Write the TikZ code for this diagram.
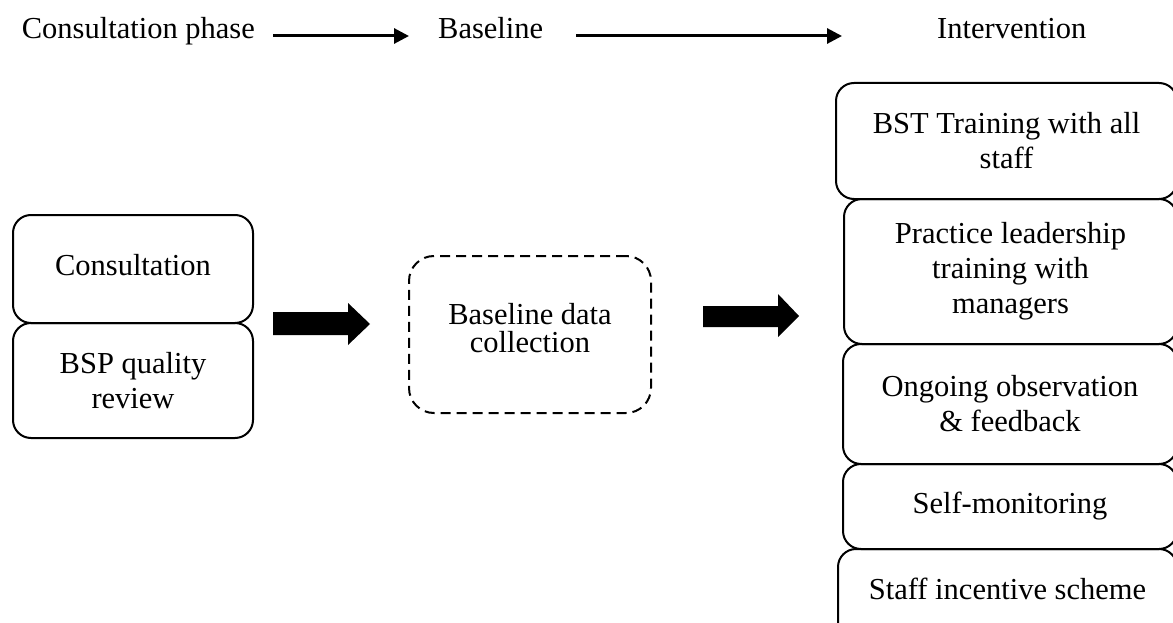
\documentclass[tikz,border=0pt]{standalone}
\usepackage{fontspec}
\setmainfont{Liberation Serif}
\usetikzlibrary{arrows.meta,calc}
\begin{document}
\begin{tikzpicture}[x=1pt,y=-1pt,
  lbl/.style={inner sep=0pt, font=\fontsize{30.5}{35}\selectfont},
  box/.style={draw, line width=2pt, rounded corners=18pt, align=center,
    inner sep=0pt, anchor=north west, font=\fontsize{30.5}{35}\selectfont},
  phase/.style={line width=3pt, -{Triangle[length=15pt,width=15pt]}},
  block/.style={fill=black}
]
\path[use as bounding box] (0,0) rectangle (1173,623);
\clip (0,0) rectangle (1173,623);

% phase headings
\node[lbl, anchor=base east] (cp) at (255,39) {Consultation phase};
\node[lbl, anchor=base west] (bl) at (438,39) {Baseline};
\node[lbl, anchor=base west] (iv) at (937,39) {Intervention};
\draw[phase] ($(cp.base east)+(18,-3)$) -- ($(bl.base west)+(-29,-3)$);
\draw[phase] ($(bl.base east)+(33,-3)$) -- ($(iv.base west)+(-95,-3)$);

% consultation phase
\node[box, minimum width=240pt, minimum height=108pt] (cons) at (12,214)
      {Consultation\rule[-8pt]{0pt}{8pt}};
\node[box, minimum width=240pt, minimum height=115pt] (bsp) at (12,322) {BSP quality\\review};

% baseline phase
\node[box, dash pattern=on 10pt off 6pt, rounded corners=25pt,
      font=\fontsize{30.5}{28}\selectfont,
      minimum width=242pt, minimum height=157pt] (base) at (408,255)
      {Baseline data\\collection\rule[-14pt]{0pt}{14pt}};

% intervention components
\node[box, minimum width=341pt, minimum height=116pt] (bst) at (835,82)
      {BST Training with all\\staff};
\node[box, minimum width=333pt, minimum height=145pt] (plt) at (843,198)
      {Practice leadership\\training with\\managers};
\node[box, minimum width=334pt, minimum height=120pt] (obs) at (842,343)
      {Ongoing observation\\\& feedback};
\node[box, minimum width=334pt, minimum height=85pt] (self) at (842,463)
      {Self-monitoring};
\node[box, minimum width=339pt, minimum height=110pt] (inc) at (837,548)
      {Staff incentive scheme\rule[-30pt]{0pt}{30pt}};

% block arrows between phases
\fill[block] (273,312) -- (348,312) -- (348,303) -- (370,324) -- (348,345)
  -- (348,335) -- (273,335) -- cycle;
\fill[block] (703,306) -- (778,306) -- (778,294) -- (799,316) -- (778,337)
  -- (778,327) -- (703,327) -- cycle;
\end{tikzpicture}
\end{document}
